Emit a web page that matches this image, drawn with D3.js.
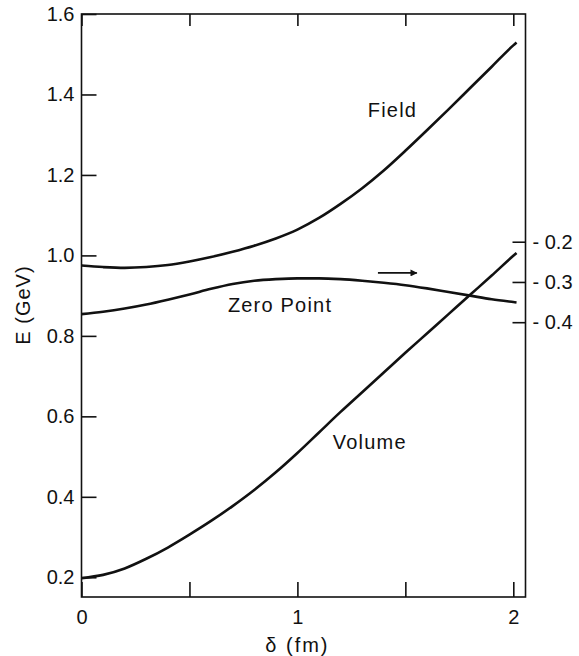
<!DOCTYPE html>
<html>
<head>
<meta charset="utf-8">
<script src="https://cdn.jsdelivr.net/npm/d3@7"></script>
<style>
  body { margin: 0; background: #fff; }
  text { font-family: "Liberation Sans", Arial, sans-serif; fill: #111; }
</style>
</head>
<body>
<div id="chart"></div>
<script>
// delta (fm) sample points
var delta = [0, 0.1, 0.2, 0.3, 0.4, 0.5, 0.6, 0.7, 0.8, 0.9, 1.0, 1.1, 1.2, 1.3, 1.4, 1.5, 1.6, 1.7, 1.8, 1.9, 2.0, 2.015];
// energies (GeV), left axis
var field     = [0.975, 0.971, 0.969, 0.971, 0.976, 0.985, 0.996, 1.009, 1.024, 1.042, 1.064, 1.093, 1.128, 1.167, 1.211, 1.260, 1.311, 1.363, 1.416, 1.469, 1.522, 1.529];
var zeroPoint = [0.854, 0.860, 0.868, 0.878, 0.890, 0.903, 0.917, 0.929, 0.937, 0.941, 0.943, 0.943, 0.941, 0.937, 0.932, 0.926, 0.918, 0.909, 0.900, 0.891, 0.884, 0.883];
var volume    = [0.198, 0.206, 0.222, 0.246, 0.274, 0.306, 0.340, 0.377, 0.417, 0.461, 0.509, 0.560, 0.611, 0.660, 0.709, 0.758, 0.806, 0.854, 0.902, 0.950, 0.999, 1.006];

var xTicks = [0, 0.5, 1, 1.5, 2];
var yTicks = [0.2, 0.4, 0.6, 0.8, 1.0, 1.2, 1.4, 1.6];
var rTicks = [-0.2, -0.3, -0.4];
var rightOffset = 1.234; // right axis = left axis - offset

var labels = [
  {text: "Field", x: 1.326, y: 1.344},
  {text: "Zero Point", x: 0.678, y: 0.859},
  {text: "Volume", x: 1.164, y: 0.518}
];

var w = 579, h = 656;
var svg = d3.select("#chart").append("svg").attr("width", w).attr("height", h);

var x = d3.scaleLinear().domain([0, 2.0565]).range([81.5, 525.5]);
var y = d3.scaleLinear().domain([0.151, 1.6]).range([597, 14]);
var yr = d3.scaleLinear().domain([0.151 - rightOffset, 1.6 - rightOffset]).range([597, 14]);

var fsize = "20px";

// frame
svg.append("rect").attr("x", x(0)).attr("y", y(1.6))
  .attr("width", x.range()[1] - x(0)).attr("height", y.range()[0] - y(1.6))
  .attr("fill", "none").attr("stroke", "#111").attr("stroke-width", 1.6);

var gl = svg.append("g").attr("transform", "translate(" + x(0) + ",0)")
  .call(d3.axisLeft(y).tickValues(yTicks).tickSize(-15).tickPadding(7)
    .tickFormat(d3.format(".1f")));
var gb = svg.append("g").attr("transform", "translate(0," + y.range()[0] + ")")
  .call(d3.axisBottom(x).tickValues(xTicks).tickSize(-15).tickPadding(13)
    .tickFormat(function(d){ return Number.isInteger(d) ? d : ""; }));
var gt = svg.append("g").attr("transform", "translate(0," + y(1.6) + ")")
  .call(d3.axisTop(x).tickValues(xTicks).tickSize(-12).tickFormat(""));
var gr = svg.append("g").attr("transform", "translate(" + x.range()[1] + ",0)")
  .call(d3.axisRight(yr).tickValues(rTicks).tickSize(-13).tickPadding(7)
    .tickFormat(function(d){ return "- " + d3.format(".1f")(-d); }));

[gl, gb, gt, gr].forEach(function(g){
  g.select(".domain").remove();
  g.selectAll(".tick line").attr("stroke", "#111").attr("stroke-width", 1.6);
  g.selectAll(".tick text").style("font-size", fsize).style("font-family", "'Liberation Sans', Arial, sans-serif").attr("fill", "#111");
});

// curves
var line = d3.line().x(function(d){ return x(d[0]); }).y(function(d){ return y(d[1]); })
  .curve(d3.curveMonotoneX);
[field, zeroPoint, volume].forEach(function(s){
  svg.append("path").datum(delta.map(function(d, i){ return [d, s[i]]; }))
    .attr("d", line).attr("fill", "none").attr("stroke", "#111").attr("stroke-width", 2.6);
});

// curve labels
svg.selectAll("text.lbl").data(labels).enter().append("text").attr("class", "lbl")
  .attr("x", function(d){ return x(d.x); }).attr("y", function(d){ return y(d.y); })
  .style("font-size", fsize).style("letter-spacing", "1.2px").text(function(d){ return d.text; });

// arrow pointing to right axis
var defs = svg.append("defs");
defs.append("marker").attr("id", "ah").attr("viewBox", "0 0 10 10").attr("refX", 9).attr("refY", 5)
  .attr("markerWidth", 9).attr("markerHeight", 7).attr("markerUnits", "userSpaceOnUse").attr("orient", "auto")
  .append("path").attr("d", "M0,0 L10,5 L0,10 z").attr("fill", "#111");
svg.append("line").attr("x1", x(1.373)).attr("x2", x(1.553)).attr("y1", y(0.9565)).attr("y2", y(0.9565))
  .attr("stroke", "#111").attr("stroke-width", 1.8).attr("marker-end", "url(#ah)");

// axis titles
svg.append("text").attr("transform", "translate(30,305) rotate(-90)").attr("text-anchor", "middle")
  .style("font-size", fsize).style("letter-spacing", "1px").text("E (GeV)");
svg.append("text").attr("x", x(1)).attr("y", 652).attr("text-anchor", "middle")
  .style("font-size", fsize).style("letter-spacing", "2px").text("δ (fm)");
</script>
</body>
</html>
